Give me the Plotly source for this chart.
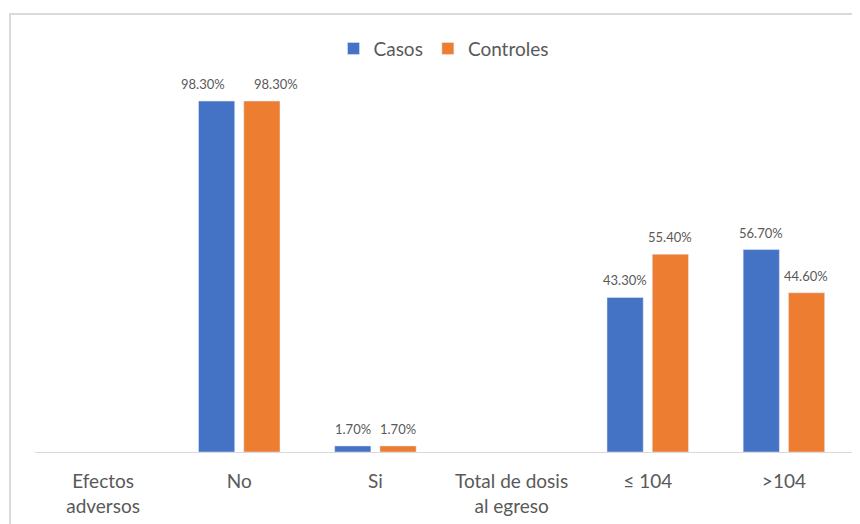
import plotly.graph_objects as go

categories = ["Efectos<br>adversos", "No", "Si", "Total de dosis<br>al egreso", "≤ 104", ">104"]
casos = [None, 98.3, 1.7, None, 43.3, 56.7]
controles = [None, 98.3, 1.7, None, 55.4, 44.6]

BLUE = "#4472C4"
ORANGE = "#ED7D31"
GRAY = "#595959"
FONT = "Lato"

fig = go.Figure()
fig.add_trace(go.Bar(name="Casos", x=categories, y=casos, marker_color=BLUE))
fig.add_trace(go.Bar(name="Controles", x=categories, y=controles, marker_color=ORANGE))

# data labels
bar_offset = 22.5
extra = {"No": 14}
for series, sign in ((casos, -1), (controles, 1)):
    for cat, val in zip(categories, series):
        if val is None:
            continue
        xs = sign * (bar_offset + extra.get(cat, 0))
        fig.add_annotation(x=cat, y=val, xref="x", yref="y", text=f"{val:.2f}%",
                           showarrow=False, xshift=xs, yshift=17,
                           font=dict(family=FONT, size=13, color=GRAY))

# outer border
fig.add_shape(type="rect", xref="paper", yref="paper", x0=-0.0306, y0=-0.3, x1=1.2, y1=1.2269,
              line=dict(color="#d9d9d9", width=2), fillcolor="rgba(0,0,0,0)", layer="below")

fig.update_layout(
    width=852, height=516,
    margin=dict(l=27, r=8, t=87, b=72),
    paper_bgcolor="white", plot_bgcolor="white",
    barmode="group", bargap=0.335, bargroupgap=0.2,
    font=dict(family=FONT, color=GRAY),
    legend=dict(orientation="h", x=0.5, xanchor="center", y=1.13, yanchor="middle",
                font=dict(family=FONT, size=19, color=GRAY), itemwidth=30),
    xaxis=dict(showline=True, linecolor="#d9d9d9", linewidth=1, showgrid=False,
               ticks="", ticklabelstandoff=12,
               tickfont=dict(family=FONT, size=19, color=GRAY)),
    yaxis=dict(range=[0, 100], showticklabels=False, showgrid=False, zeroline=False,
               showline=False),
)

fig.write_html("out.html")
